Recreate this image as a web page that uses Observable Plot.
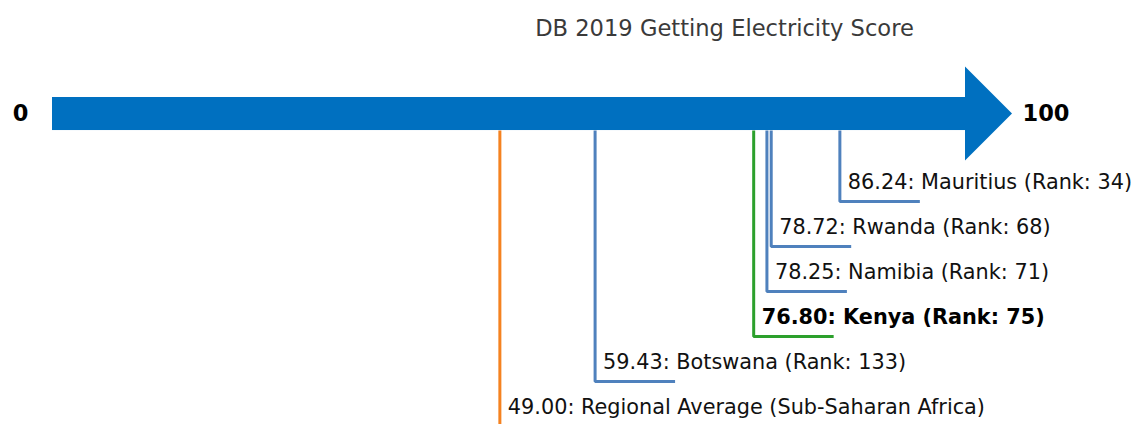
<!DOCTYPE html>
<html>
<head>
<meta charset="utf-8">
<script src="https://cdn.jsdelivr.net/npm/d3@7"></script>
<script src="https://cdn.jsdelivr.net/npm/@observablehq/plot@0.6"></script>
<style>
  html, body { margin: 0; padding: 0; background: #fff; }
  #wrap { position: relative; width: 1132px; height: 424px; font-family: "DejaVu Sans", sans-serif; }
  #title { position: absolute; top: 15px; left: 317px; width: 815px; text-align: center;
           font-size: 22.6px; color: #3a3a3a; line-height: 1.2; }
  #chart { position: absolute; top: 0; left: 0; }
</style>
</head>
<body>
<div id="wrap">
  <div id="title"></div>
  <div id="chart"></div>
</div>
<script>
// ---- data ----
const titleText = "DB 2019 Getting Electricity Score";
const names = ["Mauritius", "Rwanda", "Namibia", "Kenya", "Botswana", "Regional Average (Sub-Saharan Africa)"];
const scores = [86.24, 78.72, 78.25, 76.80, 59.43, 49.00];
const ranks = [34, 68, 71, 75, 133, null];
const groups = ["peer", "peer", "peer", "focus", "peer", "average"];
const axisMin = 0, axisMax = 100;

// ---- layout constants (not data) ----
const barRow = -1.944;       // row of the arrow's centre line
const shaftHalf = 0.367;     // half height of the shaft, in rows
const headHalf = 1.044;      // half height of the arrow head, in rows
const headLen = 5.15;        // arrow head length, in score units
const legLen = 8.76;         // horizontal leader length, in score units
const colors = {peer: "#4f81bd", focus: "#2ca02c", average: "#f58220"};

const rows = names.map((n, i) => ({
  name: n, score: scores[i], rank: ranks[i], group: groups[i], row: i,
  label: `${scores[i].toFixed(2)}: ${n}` + (ranks[i] != null ? ` (Rank: ${ranks[i]})` : "")
}));

const leaders = rows.flatMap(d => [
  {name: d.name, group: d.group, x: d.score, y: barRow + shaftHalf},
  {name: d.name, group: d.group, x: d.score, y: d.row},
  {name: d.name, group: d.group, x: d.score + legLen, y: d.row}
]);

const head = [
  {x: axisMax, y1: barRow - headHalf, y2: barRow + headHalf},
  {x: axisMax + headLen, y1: barRow, y2: barRow}
];

const labelOpts = {x: "score", y: "row", text: "label", textAnchor: "start", dx: 8, dy: -19.5,
  fontSize: 20.8, fill: "#111"};

const chart = Plot.plot({
  width: 1132,
  height: 424,
  margin: 0,
  style: {fontFamily: "DejaVu Sans, sans-serif", background: "transparent"},
  x: {domain: [axisMin, axisMax], range: [52, 965], axis: null},
  y: {domain: [0, 5], range: [201, 426], axis: null},
  marks: [
    Plot.line(leaders, {x: "x", y: "y", z: "name", stroke: d => colors[d.group], strokeWidth: 3,
      strokeLinejoin: "miter", strokeLinecap: "butt"}),
    Plot.rect([{x1: axisMin, x2: axisMax, y1: barRow - shaftHalf, y2: barRow + shaftHalf}],
      {x1: "x1", x2: "x2", y1: "y1", y2: "y2", fill: "#0070c0"}),
    Plot.areaY(head, {x: "x", y1: "y1", y2: "y2", fill: "#0070c0", curve: "linear"}),
    Plot.text(rows.filter(d => d.group !== "focus"), {...labelOpts, fontWeight: "normal"}),
    Plot.text(rows.filter(d => d.group === "focus"), {...labelOpts, fontWeight: "bold", fill: "#000"}),
    Plot.text([String(axisMin)], {x: axisMin, y: barRow, text: d => d, textAnchor: "end", dx: -24,
      fontSize: 22.5, fontWeight: "bold", fill: "#000"}),
    Plot.text([String(axisMax)], {x: axisMax + headLen, y: barRow, text: d => d, textAnchor: "start", dx: 10,
      fontSize: 22.5, fontWeight: "bold", fill: "#000"})
  ]
});
document.getElementById("chart").append(chart);
document.getElementById("title").textContent = titleText;
</script>
</body>
</html>
